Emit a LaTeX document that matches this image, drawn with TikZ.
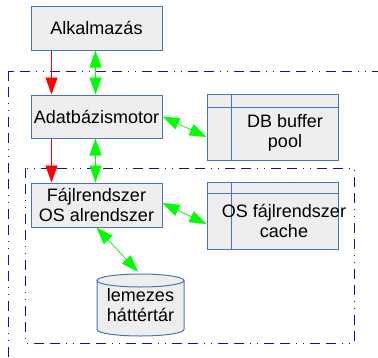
\documentclass[tikz,border=0pt]{standalone}
\usepackage{fontspec}
\setmainfont{Liberation Sans}
\usetikzlibrary{arrows.meta,calc}
\definecolor{boxblue}{RGB}{74,118,176}
\definecolor{boxfill}{RGB}{238,238,238}
\definecolor{frameblue}{RGB}{20,20,140}
\definecolor{agreen}{RGB}{0,255,0}
\begin{document}
\begin{tikzpicture}[x=1pt,y=-1pt,
 box/.style={draw=boxblue, fill=boxfill, line width=1pt, inner sep=0pt},
 lbl/.style={font=\fontsize{18}{20}\selectfont, align=center, text=black},
 frame/.style={draw=frameblue, line width=1pt, dash pattern=on 10pt off 6pt on 10pt off 6pt on 1pt off 6pt on 1pt off 6pt},
 redarr/.style={draw=red, line width=0.8pt, -{Triangle[length=17pt,width=12pt]}},
 grnarr/.style={draw=agreen, line width=0.8pt, {Triangle[length=17pt,width=12pt]}-{Triangle[length=17pt,width=12pt]}},
 tline/.style={draw=boxblue, line width=1pt}]
\useasboundingbox (0,0) rectangle (378,357);
\clip (0,0) rectangle (378,357);
% frames
\draw[frame] (8,71) rectangle (400,380);
\draw[frame] (25,168) rectangle (354,343);
% boxes
\node[box, lbl, minimum width=131pt, minimum height=44pt] (alk) at (96.5,28) {Alkalmazás};
\node[box, lbl, minimum width=131pt, minimum height=43pt] (adat) at (96.5,116.5) {Adatbázismotor};
\node[box, lbl, minimum width=131pt, minimum height=44pt] (fajl) at (96.5,205) {Fájlrendszer\\OS alrendszer};
% DB buffer pool
\node[box, minimum width=131pt, minimum height=66pt] (buf) at (272.5,127) {};
\draw[tline] ([xshift=25pt]buf.north west) -- ([xshift=25pt]buf.south west);
\draw[tline] ([yshift=-14pt]buf.north west) -- ([yshift=-14pt]buf.north east);
\node[lbl] (buftxt) at (285,133) {DB buffer\\pool};
% OS cache
\node[box, minimum width=131pt, minimum height=67pt] (cache) at (272.5,215.5) {};
\draw[tline] ([xshift=25pt]cache.north west) -- ([xshift=25pt]cache.south west);
\draw[tline] ([yshift=-12pt]cache.north west) -- ([yshift=-12pt]cache.north east);
\node[lbl] (cachetxt) at (284,221) {OS fájlrendszer\\cache};
% disk
\path[fill=boxfill] (97,280.5) -- (97,329.5) arc[start angle=180, end angle=360, x radius=43.5pt, y radius=6.5pt] -- (184,280.5) arc[start angle=0, end angle=180, x radius=43.5pt, y radius=6.5pt] -- cycle;
\draw[tline] (97,280.5) -- (97,329.5) arc[start angle=180, end angle=360, x radius=43.5pt, y radius=6.5pt] -- (184,280.5);
\draw[tline] (140.5,280.5) ellipse [x radius=43.5pt, y radius=6.5pt];
\node[lbl, minimum width=87pt, minimum height=62pt, inner sep=0pt] (disk) at (140.5,305) {lemezes\\háttértár};
% connectors
\draw[redarr] ([xshift=21pt]alk.south west) -- ([xshift=21pt]adat.north west);
\draw[grnarr] ([xshift=65pt]alk.south west) -- ([xshift=65pt]adat.north west);
\draw[redarr] ([xshift=21pt]adat.south west) -- ([xshift=21pt]fajl.north west);
\draw[grnarr] ([xshift=65pt]adat.south west) -- ([xshift=65pt]fajl.north west);
\draw[grnarr] (adat.east) -- ([yshift=-10pt]buf.west);
\draw[grnarr] ([yshift=2pt]fajl.east) -- ([yshift=-8.5pt]cache.west);
\draw[grnarr] (fajl.south) -- ([xshift=-2.5pt,yshift=2pt]disk.north);
\end{tikzpicture}
\end{document}
